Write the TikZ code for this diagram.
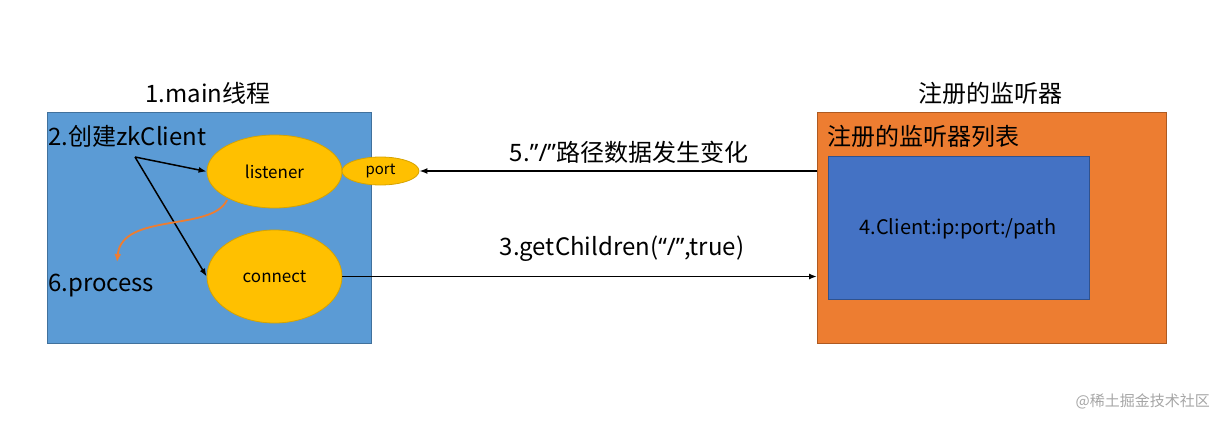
\documentclass[tikz,border=0pt]{standalone}
\usepackage{fontspec}
\setmainfont{Noto Sans CJK SC}
\newfontfamily\lat{Noto Sans}
\usetikzlibrary{arrows.meta,shapes.geometric}
\definecolor{lblue}{HTML}{5B9BD5}
\definecolor{lblueb}{HTML}{41719C}
\definecolor{orng}{HTML}{ED7D31}
\definecolor{orngb}{HTML}{AE5A21}
\definecolor{dblue}{HTML}{4472C4}
\definecolor{dblueb}{HTML}{2F528F}
\definecolor{gold}{HTML}{FFC000}
\definecolor{goldb}{HTML}{D6A300}
\tikzset{
  lbl/.style={inner sep=0pt, font=\fontsize{24}{28}\selectfont},
  ell/.style={ellipse, draw=goldb, fill=gold, line width=0.8pt, inner sep=0pt, font=\fontsize{17}{20}\selectfont},
  arr/.style={-{Latex[length=8pt,width=6pt]}, line width=1.8pt, black},
}
\begin{document}
\begin{tikzpicture}[x=1pt,y=-1pt]
\useasboundingbox (0,0) rectangle (1223,423);
% left box
\node[draw=lblueb, fill=lblue, minimum width=324pt, minimum height=231pt, anchor=north west, inner sep=0pt, line width=0.8pt] (main) at (47,112) {};
\node[lbl] (maint) at (208,93) {1.main线程};
\node[lbl, anchor=west] (create) at (48,136) {2.创建zkClient};
\coordinate (src) at (135,157);
\node[ell, minimum width=135pt, minimum height=73pt] (listener) at (274.5,171.5) {listener};
\node[ell, minimum width=77pt, minimum height=28pt, font=\fontsize{15}{18}\selectfont] (port) at (380.5,171) {port};
\node[ell, minimum width=135pt, minimum height=93pt] (connect) at (274.5,276.5) {connect};
\node[lbl, anchor=west] (proc) at (48,286) {6.process};
\draw[arr, line width=1.5pt] (src) -- (listener.west);
\draw[arr, line width=1.5pt] (src) -- (connect.west);
\coordinate (cs) at (227,200);
\coordinate (ce) at (117,262);
\draw[orng, line width=1.8pt, -{Latex[length=8pt,width=7pt]}] (cs) .. controls (212,232) and (122,212) .. (ce);
% right box
\node[draw=orngb, fill=orng, minimum width=349pt, minimum height=231pt, anchor=north west, inner sep=0pt, line width=0.8pt] (reg) at (817,112) {};
\node[lbl] (regt) at (990,93) {注册的监听器};
\node[lbl, anchor=west] (regl) at (827,136) {注册的监听器列表};
\node[draw=dblueb, fill=dblue, minimum width=261pt, minimum height=143pt, anchor=north west, inner sep=0pt, line width=0.8pt] (inner) at (828,156) {};
\node[inner sep=0pt, font=\fontsize{20}{24}\selectfont] (clt) at (958,229) {4.Client:ip:port:/path};
% connectors
\coordinate (rin1) at (reg.west |- port.east);
\draw[arr] (rin1) -- (port.east);
\coordinate (rin2) at (reg.west |- connect.east);
\draw[arr] (connect.east) -- (rin2);
\node[lbl] (l5) at (629,152) {5.{\lat ”/”}路径数据发生变化};
\node[lbl] (l3) at (622,249) {3.getChildren({\lat “/”},true)};
\node[inner sep=0pt, text=black!35, font=\fontsize{15}{18}\selectfont, anchor=east] (wm) at (1210,401) {@稀土掘金技术社区};
\end{tikzpicture}
\end{document}
